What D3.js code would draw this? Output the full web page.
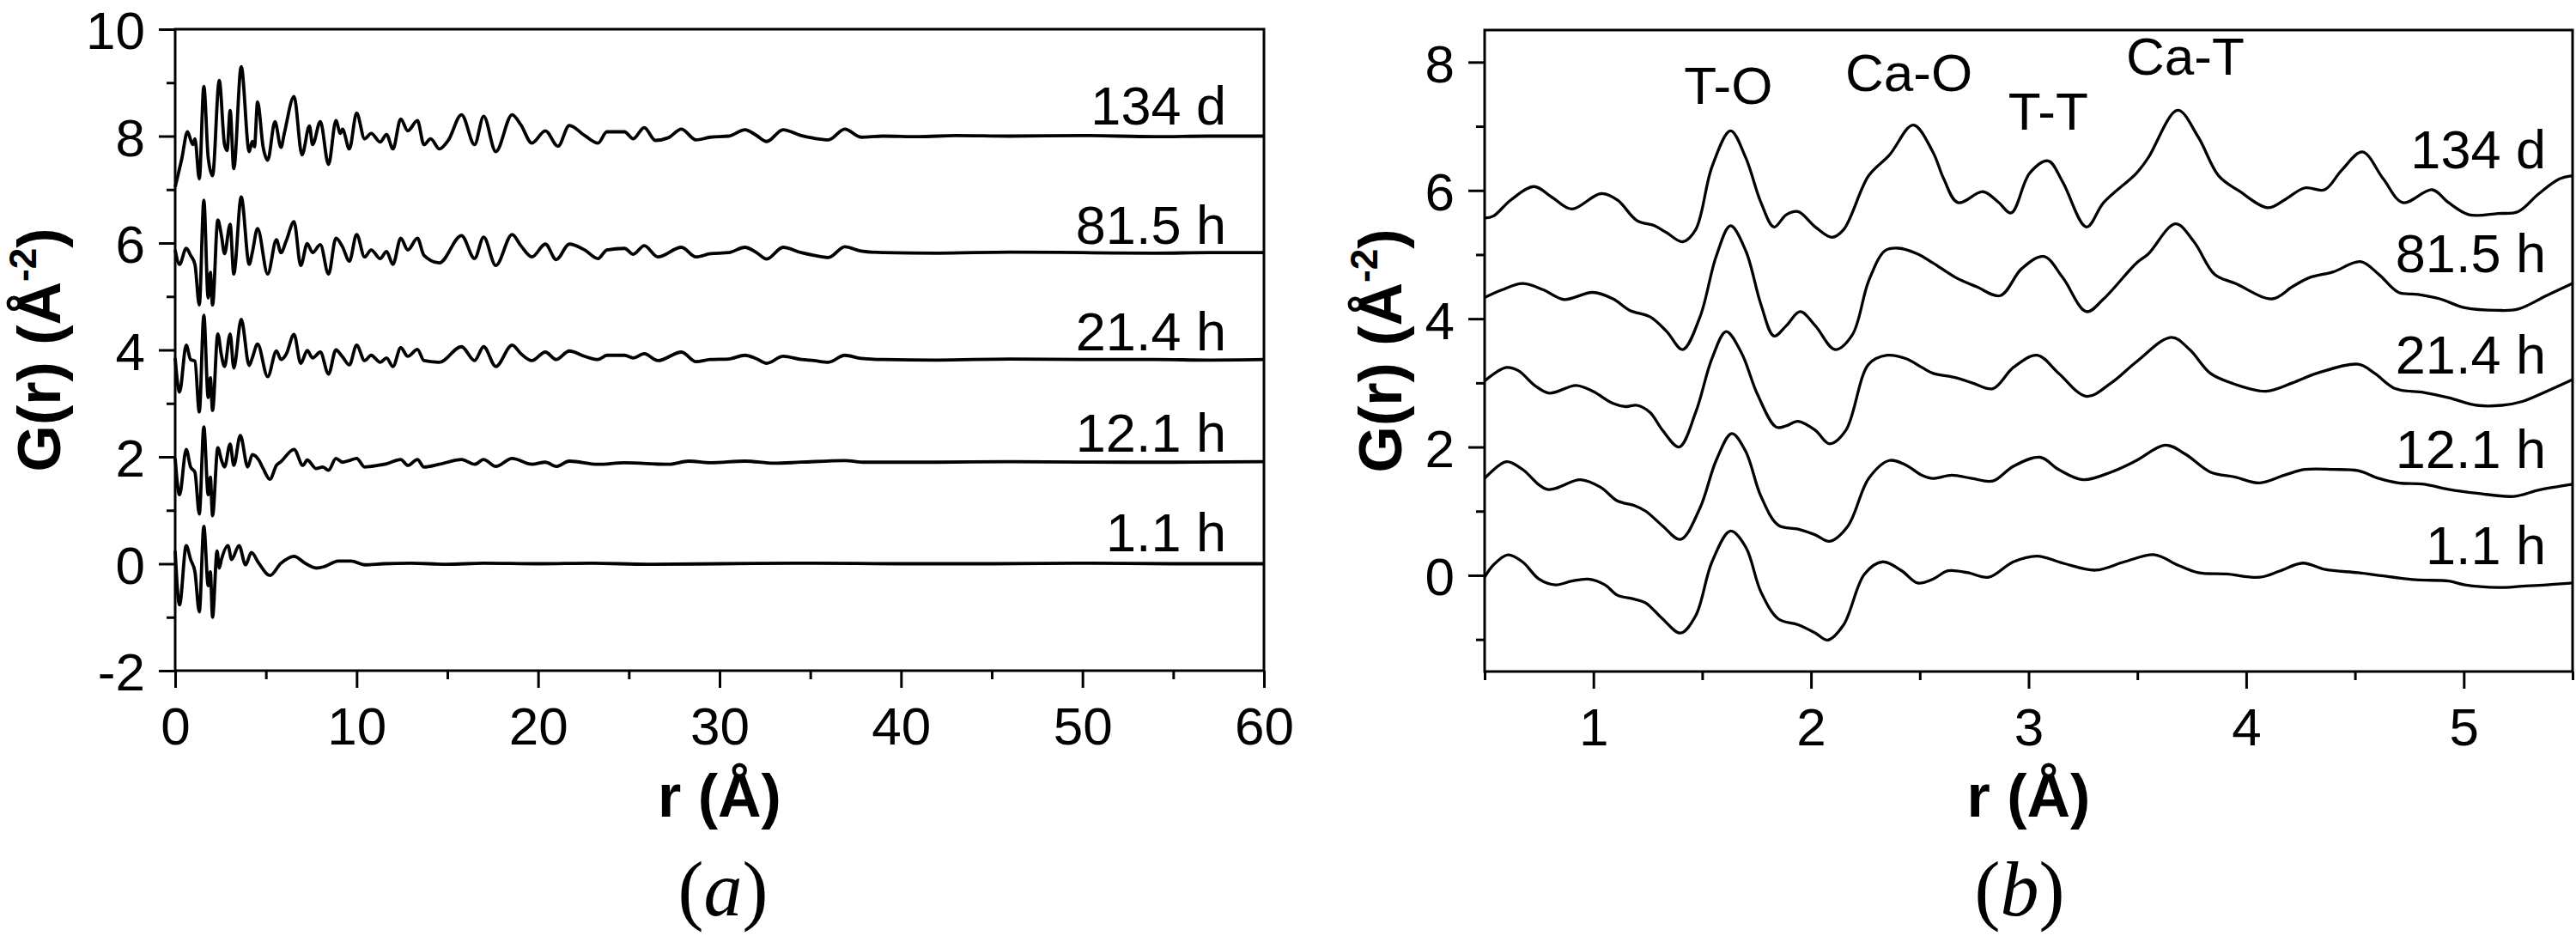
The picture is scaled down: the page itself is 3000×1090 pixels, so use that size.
<!DOCTYPE html>
<html>
<head>
<meta charset="utf-8">
<script src="https://cdn.jsdelivr.net/npm/d3@7"></script>
<style>
  html, body { margin: 0; padding: 0; background: #fff; }
  svg { display: block; }
  text { font-family: "Liberation Sans", Arial, Helvetica, sans-serif; fill: #000; }
</style>
</head>
<body>
<svg id="chart" width="3000" height="1090"></svg>
<script>
// ---------------- DATA ----------------
// Panel (a): G(r) curves, r in Å, offset already included (as plotted)
const seriesLabels = ["134 d", "81.5 h", "21.4 h", "12.1 h", "1.1 h"];

const a_134d = [[0,7.05],[0.36,7.57],[0.68,8.08],[0.97,7.84],[1.09,7.95],[1.33,7.2],[1.58,8.93],[1.82,7.6],[2.06,7.26],[2.43,9.04],[2.72,7.84],[2.86,7.73],[3.03,8.48],[3.23,7.39],[3.64,9.3],[4.08,7.71],[4.25,7.9],[4.37,7.8],[4.54,8.64],[4.85,7.79],[5.1,7.55],[5.5,8.27],[5.83,7.79],[6.02,8.06],[6.55,8.74],[6.99,7.65],[7.4,8.19],[7.57,7.84],[8.0,8.27],[8.45,7.47],[8.86,8.29],[9.1,8.05],[9.22,8.13],[9.6,7.76],[10.0,8.43],[10.44,7.95],[10.8,8.05],[11.3,7.89],[11.65,8.03],[12.0,7.76],[12.43,8.32],[12.82,8.1],[13.35,8.29],[13.71,7.84],[14.08,7.95],[14.56,7.76],[15.05,7.92],[15.78,8.4],[16.5,7.84],[17.0,8.37],[17.67,7.71],[18.57,8.4],[19.05,8.21],[19.66,7.87],[20.4,8.1],[21.1,7.81],[21.72,8.2],[22.57,8.01],[23.3,7.87],[23.79,8.08],[24.76,8.08],[25.24,7.95],[25.85,8.16],[26.46,7.92],[27.18,7.97],[27.9,8.13],[28.7,7.93],[29.5,7.98],[30.5,8.0],[31.4,8.12],[32.0,8.02],[32.6,7.9],[33.5,8.12],[34.5,8.01],[35.2,7.96],[36.0,7.93],[36.9,8.13],[37.8,7.98],[39,8.0],[41,7.99],[43,8.01],[46,8.0],[50,8.01],[54,7.99],[57,8.0],[60,8.0]];

const a_815h = [[0,5.87],[0.24,5.6],[0.61,5.9],[0.85,5.77],[1.09,5.6],[1.33,4.84],[1.58,6.8],[1.82,4.97],[1.94,5.45],[2.06,4.84],[2.35,6.43],[2.55,6.14],[2.72,5.8],[3.03,6.35],[3.23,5.42],[3.64,6.86],[4.08,5.6],[4.25,5.82],[4.54,6.27],[5.1,5.42],[5.58,6.06],[5.83,5.82],[6.12,6.04],[6.55,6.4],[6.92,5.58],[7.28,5.99],[7.57,5.82],[8.0,5.97],[8.45,5.42],[8.86,6.09],[9.22,5.93],[9.6,5.66],[10.0,6.16],[10.44,5.74],[10.8,5.87],[11.3,5.71],[11.65,5.84],[12.0,5.6],[12.43,6.09],[12.82,5.87],[13.35,6.09],[13.71,5.77],[14.56,5.63],[15.78,6.14],[16.5,5.71],[17.0,6.11],[17.67,5.58],[18.57,6.16],[19.05,5.95],[19.66,5.74],[20.4,5.98],[21.0,5.69],[21.72,5.98],[22.57,5.87],[23.3,5.71],[23.79,5.87],[24.76,5.9],[25.24,5.79],[25.85,5.95],[26.6,5.74],[27.9,5.92],[28.7,5.74],[29.5,5.8],[30.5,5.82],[31.4,5.92],[32.0,5.83],[32.6,5.7],[33.5,5.92],[34.5,5.82],[35.2,5.77],[36.0,5.73],[36.9,5.93],[37.8,5.85],[39,5.82],[42,5.81],[46,5.83],[50,5.82],[54,5.81],[57,5.82],[60,5.82]];

const a_214h = [[0,3.85],[0.24,3.21],[0.61,4.09],[0.85,3.82],[1.09,3.79],[1.33,2.84],[1.58,4.65],[1.82,3.11],[1.94,3.48],[2.06,2.87],[2.35,4.3],[2.55,3.9],[2.72,3.69],[3.03,4.3],[3.23,3.66],[3.64,4.57],[4.08,3.71],[4.25,3.85],[4.54,4.11],[5.1,3.5],[5.58,3.98],[5.83,3.82],[6.12,3.92],[6.55,4.29],[6.92,3.75],[7.28,3.99],[7.57,3.85],[8.0,3.96],[8.45,3.55],[8.86,4.0],[9.22,3.87],[9.6,3.72],[10.0,4.09],[10.44,3.8],[10.8,3.9],[11.3,3.77],[11.65,3.85],[12.0,3.69],[12.43,4.04],[12.82,3.88],[13.35,4.01],[13.71,3.8],[14.56,3.77],[15.78,4.06],[16.5,3.8],[17.0,4.06],[17.67,3.69],[18.57,4.09],[19.05,3.93],[19.66,3.8],[20.4,3.96],[21.0,3.82],[21.72,3.98],[22.57,3.88],[23.3,3.82],[23.79,3.9],[24.76,3.9],[25.24,3.85],[25.85,3.93],[26.6,3.8],[27.9,3.96],[28.7,3.78],[29.5,3.82],[30.5,3.83],[31.4,3.9],[32.0,3.84],[32.6,3.75],[33.5,3.88],[34.5,3.82],[35.2,3.8],[36.0,3.77],[36.9,3.9],[37.8,3.84],[39,3.82],[42,3.81],[46,3.83],[50,3.82],[54,3.82],[57,3.81],[60,3.82]];

const a_121h = [[0,1.97],[0.24,1.29],[0.61,2.14],[0.85,1.81],[1.09,1.71],[1.33,0.93],[1.58,2.56],[1.82,1.29],[1.94,1.62],[2.06,0.9],[2.35,2.17],[2.55,1.94],[2.72,1.81],[3.03,2.24],[3.23,1.84],[3.59,2.4],[4.0,1.81],[4.25,2.04],[4.61,1.94],[4.85,1.78],[5.22,1.58],[5.58,1.84],[5.83,1.91],[6.55,2.14],[7.04,1.84],[7.28,1.94],[7.77,1.78],[8.13,1.81],[8.45,1.75],[8.86,1.97],[9.22,1.9],[9.59,1.93],[10.0,1.97],[10.44,1.81],[11.17,1.84],[11.65,1.87],[12.43,1.95],[12.82,1.84],[13.35,1.95],[13.71,1.81],[14.56,1.86],[15.78,1.95],[16.5,1.86],[17.0,1.95],[17.67,1.82],[18.57,1.97],[19.66,1.86],[20.4,1.9],[21.0,1.82],[21.72,1.92],[23.3,1.86],[24.76,1.89],[27.2,1.86],[28.3,1.92],[29.5,1.89],[31.4,1.92],[33,1.88],[34.5,1.9],[36.9,1.93],[38,1.9],[42,1.9],[46,1.91],[50,1.9],[55,1.9],[60,1.91]];

const a_11h = [[0,0.24],[0.24,-0.77],[0.61,0.34],[0.85,0.08],[1.09,-0.15],[1.33,-0.9],[1.58,0.7],[1.82,-0.41],[1.94,-0.15],[2.06,-1.0],[2.31,0.24],[2.43,-0.08],[2.55,0.08],[2.91,0.34],[3.11,0.08],[3.52,0.34],[3.88,-0.02],[4.2,0.21],[4.61,0.01],[5.22,-0.22],[5.83,0.01],[6.55,0.14],[7.16,0.01],[7.77,-0.08],[8.25,-0.05],[8.98,0.05],[9.7,0.05],[10.44,-0.02],[11.5,0.0],[13,0.01],[15,-0.01],[17,0.01],[20,0.0],[23,0.01],[26,-0.01],[30,0.0],[35,0.01],[40,0.0],[45,0.0],[50,0.01],[55,0.0],[60,0.0]];

// Panel (b): low-r region
const b_134d = [[0.5,5.57],[0.54,5.6],[0.62,5.85],[0.727,6.06],[0.807,5.9],[0.90,5.71],[1.034,5.95],[1.11,5.85],[1.2,5.53],[1.28,5.45],[1.337,5.34],[1.41,5.2],[1.47,5.39],[1.545,6.37],[1.63,6.93],[1.70,6.51],[1.77,5.81],[1.83,5.43],[1.886,5.62],[1.94,5.67],[2.02,5.43],[2.095,5.27],[2.15,5.39],[2.265,6.23],[2.36,6.55],[2.47,7.02],[2.56,6.6],[2.61,6.18],[2.675,5.81],[2.79,5.98],[2.86,5.82],[2.92,5.65],[3.005,6.27],[3.09,6.46],[3.157,6.13],[3.266,5.43],[3.345,5.81],[3.496,6.27],[3.55,6.51],[3.685,7.25],[3.78,6.83],[3.873,6.23],[3.968,5.99],[4.1,5.73],[4.175,5.85],[4.27,6.04],[4.36,6.01],[4.44,6.32],[4.534,6.6],[4.63,6.18],[4.72,5.81],[4.855,6.01],[4.93,5.81],[5.025,5.62],[5.157,5.64],[5.25,5.67],[5.345,5.95],[5.44,6.18],[5.5,6.23]];

const b_815h = [[0.5,4.33],[0.58,4.45],[0.674,4.55],[0.77,4.45],[0.864,4.3],[0.996,4.41],[1.09,4.31],[1.167,4.13],[1.26,4.03],[1.337,3.8],[1.41,3.52],[1.49,4.03],[1.564,4.97],[1.63,5.45],[1.70,5.06],[1.77,4.22],[1.83,3.73],[1.886,3.89],[1.95,4.11],[2.02,3.89],[2.11,3.52],[2.19,3.75],[2.265,4.59],[2.34,5.06],[2.40,5.1],[2.49,5.01],[2.56,4.87],[2.666,4.64],[2.76,4.5],[2.87,4.36],[2.968,4.78],[3.07,4.97],[3.157,4.64],[3.266,4.11],[3.345,4.31],[3.496,4.87],[3.55,5.01],[3.675,5.48],[3.76,5.2],[3.855,4.69],[3.95,4.55],[4.12,4.31],[4.213,4.5],[4.29,4.64],[4.4,4.73],[4.525,4.89],[4.61,4.69],[4.7,4.41],[4.79,4.38],[4.89,4.31],[5.005,4.17],[5.157,4.13],[5.25,4.15],[5.38,4.36],[5.5,4.55]];

const b_214h = [[0.5,3.03],[0.6,3.24],[0.655,3.19],[0.73,2.96],[0.797,2.84],[0.92,2.96],[0.996,2.87],[1.09,2.68],[1.148,2.63],[1.2,2.65],[1.26,2.54],[1.318,2.26],[1.394,2.0],[1.47,2.54],[1.545,3.38],[1.61,3.8],[1.68,3.47],[1.754,2.82],[1.84,2.31],[1.886,2.33],[1.94,2.4],[2.02,2.26],[2.085,2.05],[2.16,2.26],[2.265,3.29],[2.35,3.43],[2.435,3.38],[2.51,3.24],[2.56,3.15],[2.666,3.08],[2.74,3.0],[2.836,2.91],[2.93,3.24],[3.04,3.43],[3.138,3.15],[3.266,2.79],[3.38,3.0],[3.496,3.33],[3.656,3.71],[3.74,3.52],[3.835,3.15],[3.93,3.0],[4.09,2.87],[4.213,3.0],[4.326,3.15],[4.515,3.29],[4.59,3.15],[4.685,2.91],[4.817,2.85],[4.93,2.77],[5.06,2.65],[5.175,2.65],[5.27,2.71],[5.383,2.87],[5.5,3.05]];

const b_121h = [[0.5,1.51],[0.6,1.77],[0.674,1.65],[0.788,1.34],[0.94,1.49],[1.034,1.37],[1.11,1.16],[1.186,1.09],[1.24,1.0],[1.318,0.77],[1.40,0.56],[1.49,1.05],[1.564,1.79],[1.636,2.21],[1.70,1.93],[1.77,1.23],[1.85,0.78],[1.94,0.72],[2.02,0.63],[2.085,0.53],[2.17,0.77],[2.265,1.51],[2.36,1.79],[2.435,1.72],[2.51,1.56],[2.56,1.51],[2.647,1.56],[2.74,1.51],[2.836,1.47],[2.93,1.7],[3.053,1.84],[3.138,1.65],[3.25,1.49],[3.38,1.61],[3.496,1.79],[3.628,2.03],[3.72,1.89],[3.835,1.61],[3.95,1.53],[4.062,1.44],[4.175,1.56],[4.27,1.65],[4.4,1.65],[4.515,1.63],[4.61,1.51],[4.7,1.44],[4.817,1.42],[4.93,1.34],[5.06,1.28],[5.23,1.23],[5.345,1.33],[5.5,1.42]];

const b_11h = [[0.5,-0.03],[0.54,0.16],[0.607,0.32],[0.674,0.21],[0.75,-0.06],[0.826,-0.15],[0.90,-0.09],[0.977,-0.06],[1.053,-0.15],[1.11,-0.31],[1.186,-0.37],[1.24,-0.43],[1.318,-0.68],[1.40,-0.9],[1.47,-0.63],[1.545,0.21],[1.63,0.69],[1.70,0.44],[1.77,-0.26],[1.85,-0.68],[1.94,-0.77],[2.02,-0.9],[2.076,-1.01],[2.15,-0.77],[2.246,0.02],[2.33,0.21],[2.417,0.07],[2.49,-0.12],[2.56,-0.06],[2.63,0.07],[2.72,0.04],[2.817,-0.03],[2.93,0.21],[3.04,0.3],[3.157,0.19],[3.308,0.08],[3.44,0.21],[3.58,0.32],[3.685,0.16],[3.78,0.04],[3.91,0.02],[4.062,-0.03],[4.157,0.07],[4.26,0.19],[4.364,0.09],[4.515,0.04],[4.63,-0.01],[4.78,-0.07],[4.93,-0.09],[5.005,-0.15],[5.157,-0.19],[5.27,-0.17],[5.38,-0.15],[5.5,-0.12]];

const panelASeries = [a_134d, a_815h, a_214h, a_121h, a_11h];
const panelBSeries = [b_134d, b_815h, b_214h, b_121h, b_11h];

// Tick values
const aXTicks = [0, 10, 20, 30, 40, 50, 60];
const aXMinor = [5, 15, 25, 35, 45, 55];
const aYTicks = [-2, 0, 2, 4, 6, 8, 10];
const aYMinor = [-1, 1, 3, 5, 7, 9];
const bXTicks = [1, 2, 3, 4, 5];
const bXMinor = [0.5, 1.5, 2.5, 3.5, 4.5, 5.5];
const bYTicks = [0, 2, 4, 6, 8];
const bYMinor = [-1, 1, 3, 5, 7];

// Peak annotations in panel (b): [label, r position, G position]
const peakLabels = [["T-O", 1.62, 7.35], ["Ca-O", 2.45, 7.55], ["T-T", 3.09, 6.95], ["Ca-T", 3.72, 7.8]];
// label anchor heights (data units) for series labels
const aLabelY = [8.22, 5.99, 4.0, 2.1, 0.23];
const bLabelY = [6.35, 4.72, 3.15, 1.67, 0.18];

// ---------------- DRAW ----------------
const svg = d3.select("#chart");
const TICK_FONT = 62;

function panel(cfg) {
  const x = d3.scaleLinear().domain(cfg.xDomain).range(cfg.xRange);
  const y = d3.scaleLinear().domain(cfg.yDomain).range(cfg.yRange);
  const g = svg.append("g");

  // curves
  const line = d3.line().x(d => x(d[0])).y(d => y(d[1])).curve(cfg.curve);
  g.selectAll("path.curve").data(cfg.series).join("path")
    .attr("class", "curve")
    .attr("d", line)
    .attr("fill", "none")
    .attr("stroke", "#000")
    .attr("stroke-width", cfg.lineWidth)
    .attr("stroke-linejoin", "round");

  // minor ticks
  const xm = g.append("g").attr("transform", `translate(0,${cfg.yRange[0]})`)
    .call(d3.axisBottom(x).tickValues(cfg.xMinor).tickSize(10).tickSizeOuter(0).tickFormat(""));
  const ym = g.append("g").attr("transform", `translate(${cfg.xRange[0]},0)`)
    .call(d3.axisLeft(y).tickValues(cfg.yMinor).tickSize(10).tickSizeOuter(0).tickFormat(""));
  [xm, ym].forEach(a => { a.select(".domain").remove(); a.selectAll("line").attr("stroke-width", 3); });

  // major axes
  const xa = g.append("g").attr("transform", `translate(0,${cfg.yRange[0]})`)
    .call(d3.axisBottom(x).tickValues(cfg.xTicks).tickSize(20).tickSizeOuter(0).tickPadding(22).tickFormat(d => String(d)));
  const ya = g.append("g").attr("transform", `translate(${cfg.xRange[0]},0)`)
    .call(d3.axisLeft(y).tickValues(cfg.yTicks).tickSize(19).tickSizeOuter(0).tickPadding(16).tickFormat(d => String(d)));
  [xa, ya].forEach(a => {
    a.select(".domain").remove();
    a.selectAll("line").attr("stroke-width", 3);
    a.selectAll("text").attr("font-size", TICK_FONT).attr("font-family", "Liberation Sans, Arial, sans-serif");
  });
  ya.selectAll("text").attr("dy", "0.37em");

  // frame
  g.append("rect")
    .attr("x", cfg.xRange[0]).attr("y", cfg.yRange[1])
    .attr("width", cfg.xRange[1] - cfg.xRange[0]).attr("height", cfg.yRange[0] - cfg.yRange[1])
    .attr("fill", "none").attr("stroke", "#000").attr("stroke-width", 3);

  // series labels
  g.selectAll("text.slabel").data(seriesLabels).join("text")
    .attr("class", "slabel")
    .attr("x", cfg.labelX)
    .attr("y", (d, i) => y(cfg.labelY[i]))
    .attr("text-anchor", "end")
    .attr("font-size", 63)
    .text(d => d);

  // y title
  const yt = g.append("text")
    .attr("transform", `translate(${cfg.yTitleX},${(cfg.yRange[0] + cfg.yRange[1]) / 2}) rotate(-90)`)
    .attr("text-anchor", "middle")
    .attr("font-size", 70)
    .attr("font-weight", "bold");
  yt.append("tspan").text("G(r) (Å");
  yt.append("tspan").attr("font-size", 44).attr("dy", -28).text("-2");
  yt.append("tspan").attr("dy", 28).text(")");

  // x title
  g.append("text")
    .attr("x", (cfg.xRange[0] + cfg.xRange[1]) / 2)
    .attr("y", 951)
    .attr("text-anchor", "middle")
    .attr("font-size", 70)
    .attr("font-weight", "bold")
    .text("r (Å)");

  // panel letter
  const pl = g.append("text")
    .attr("x", cfg.letterX).attr("y", 1066)
    .attr("text-anchor", "middle")
    .attr("font-size", 90)
    .style("font-family", "'Liberation Serif', 'Times New Roman', serif");
  pl.append("tspan").text("(");
  pl.append("tspan").attr("font-style", "italic").text(cfg.letter);
  pl.append("tspan").text(")");

  return { x, y, g };
}

panel({
  xDomain: [0, 60], xRange: [204, 1472],
  yDomain: [-2, 10], yRange: [781, 34],
  series: panelASeries, curve: d3.curveMonotoneX, lineWidth: 3.8,
  xTicks: aXTicks, xMinor: aXMinor, yTicks: aYTicks, yMinor: aYMinor,
  labelX: 1428, labelY: aLabelY, yTitleX: 70, letter: "a", letterX: 842
});

const pb = panel({
  xDomain: [0.5, 5.5], xRange: [1729, 2996],
  yDomain: [-1.5, 8.5], yRange: [782, 35],
  series: panelBSeries, curve: d3.curveCatmullRom.alpha(0.5), lineWidth: 3.3,
  xTicks: bXTicks, xMinor: bXMinor, yTicks: bYTicks, yMinor: bYMinor,
  labelX: 2965, labelY: bLabelY, yTitleX: 1632, letter: "b", letterX: 2352
});

pb.g.selectAll("text.peak").data(peakLabels).join("text")
  .attr("class", "peak")
  .attr("x", d => pb.x(d[1]))
  .attr("y", d => pb.y(d[2]))
  .attr("text-anchor", "middle")
  .attr("font-size", 62)
  .text(d => d[0]);
</script>
</body>
</html>
